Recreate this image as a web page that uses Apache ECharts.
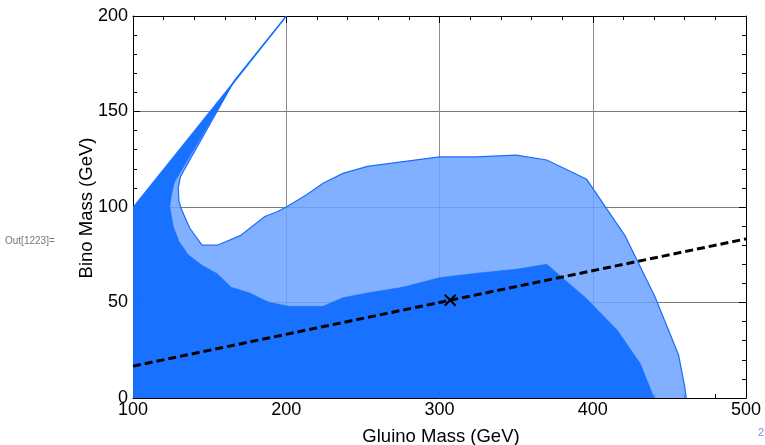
<!DOCTYPE html>
<html>
<head>
<meta charset="utf-8">
<script src="https://cdn.jsdelivr.net/npm/echarts@6/dist/echarts.min.js"></script>
<style>html,body{margin:0;padding:0;background:#fff}#c{width:765px;height:445px}</style>
</head>
<body>
<div id="c"></div>
<script>
// Light (outer) exclusion region boundary: the white-hole edge, then closure
const lightX = [200, 166, 131, 129.5, 130, 131.8, 137, 145, 155, 170, 186, 194, 200, 213, 224, 237, 253, 300, 324, 350, 370, 396, 421, 440.6, 456, 460, 461, 100, 100];
const lightY = [200, 166, 116, 110, 103, 98.4, 89, 80, 80, 85, 95, 97.5, 100, 106.3, 112.4, 117.6, 121.3, 126.2, 126.2, 127.2, 124.6, 114.5, 85, 53, 22.5, 6, 0, 0, 100];
// Outline of the light region (hole edge)
const edgeX = lightX.slice(0, 27);
const edgeY = lightY.slice(0, 27);
// Dark (inner) exclusion region
const darkX = [100, 100, 200, 198.5, 164, 130, 127, 125, 124, 126.3, 130, 136, 145, 155, 164, 176, 189, 202, 224, 237, 253, 276, 300, 324, 350, 370, 396, 416, 431, 440];
const darkY = [0, 100, 200, 198, 163, 117, 113, 106, 100, 89.7, 82, 75, 69.5, 65, 58, 55, 50, 48, 48, 52.5, 55, 58, 63, 65.3, 67.4, 70, 52, 35.5, 18, 0];
// Dashed reference line
const lineX = [100, 500];
const lineY = [16.7, 83.3];
// Benchmark point
const pointX = [307];
const pointY = [51.2];
const xTicks = [100, 200, 300, 400, 500];
const yTicks = [0, 50, 100, 150, 200];

const chart = echarts.init(document.getElementById('c'), null, {renderer: 'canvas'});

function polyRender(xs, ys, style, type) {
  return function (params, api) {
    if (params.dataIndex !== 0) return;
    const pts = xs.map((x, i) => api.coord([x, ys[i]]));
    return {type: type, shape: {points: pts}, style: style, silent: true};
  };
}

const font = 'Arial, "Liberation Sans", sans-serif';
const baseX = {
  type: 'value', min: xTicks[0], max: xTicks[xTicks.length - 1], interval: 100,
  axisLine: {show: true, onZero: false, lineStyle: {color: '#000', width: 1}},
  axisTick: {show: true, inside: true, length: 7, lineStyle: {color: '#000'}},
  minorTick: {show: true, splitNumber: 5, length: 4, lineStyle: {color: '#000'}},
  splitLine: {show: false},
};
const baseY = {
  type: 'value', min: yTicks[0], max: yTicks[yTicks.length - 1], interval: 50,
  axisLine: {show: true, onZero: false, lineStyle: {color: '#000', width: 1}},
  axisTick: {show: true, inside: true, length: 7, lineStyle: {color: '#000'}},
  minorTick: {show: true, splitNumber: 5, length: 4, lineStyle: {color: '#000'}},
  splitLine: {show: false},
};

chart.setOption({
  animation: false,
  grid: {left: 133, right: 19, top: 16, bottom: 47, containLabel: false},
  xAxis: [
    Object.assign({}, baseX, {position: 'bottom',
      axisLabel: {show: true, fontSize: 18, color: '#000', fontFamily: font, margin: 3},
      splitLine: {show: true, lineStyle: {color: '#8c8c8c', width: 1}}}),
    Object.assign({}, baseX, {position: 'top', axisLabel: {show: false}})
  ],
  yAxis: [
    Object.assign({}, baseY, {position: 'left',
      axisLabel: {show: true, fontSize: 18, color: '#000', fontFamily: font, margin: 5},
      splitLine: {show: true, lineStyle: {color: '#7a7a7a', width: 1}}}),
    Object.assign({}, baseY, {position: 'right', axisLabel: {show: false}})
  ],
  graphic: [
    {type: 'text', left: 5, top: 236, style: {text: 'Out[1223]=', fontSize: 10, fill: '#777', fontFamily: font}},
    {type: 'text', x: 441, y: 437, style: {text: 'Gluino Mass (GeV)', fontSize: 18.5, fill: '#000', fontFamily: font, textAlign: 'center', textVerticalAlign: 'middle'}},
    {type: 'text', x: 87, y: 208, rotation: Math.PI / 2, style: {text: 'Bino Mass (GeV)', fontSize: 18.5, fill: '#000', fontFamily: font, textAlign: 'center', textVerticalAlign: 'middle'}},
    {type: 'text', x: 758, y: 427, style: {text: '2', fontSize: 11, fill: '#8a8ae0', fontFamily: font}}
  ],
  series: [
    {type: 'custom', coordinateSystem: 'cartesian2d', data: [[lightX[0], lightY[0]]], clip: true, z: 2,
      renderItem: polyRender(lightX, lightY, {fill: 'rgba(106,162,255,0.85)', stroke: null}, 'polygon')},
    {type: 'custom', coordinateSystem: 'cartesian2d', data: [[edgeX[0], edgeY[0]]], clip: true, z: 3,
      renderItem: polyRender(edgeX, edgeY, {fill: null, stroke: '#1a6cff', lineWidth: 1.2}, 'polyline')},
    {type: 'custom', coordinateSystem: 'cartesian2d', data: [[darkX[0], darkY[0]]], clip: true, z: 4,
      renderItem: polyRender(darkX, darkY, {fill: 'rgba(14,108,255,0.9)', stroke: 'rgba(14,108,255,0.9)', lineWidth: 0.6}, 'polygon')},
    {type: 'line', data: lineX.map((x, i) => [x, lineY[i]]), symbol: 'none', z: 5,
      lineStyle: {color: '#000', width: 3, type: [8, 4]}},
    {type: 'custom', coordinateSystem: 'cartesian2d', data: pointX.map((x, i) => [x, pointY[i]]), z: 6,
      renderItem: function (params, api) {
        const c = api.coord([api.value(0), api.value(1)]);
        const r = 5.5;
        return {type: 'group', children: [
          {type: 'line', shape: {x1: c[0] - r, y1: c[1] - r, x2: c[0] + r, y2: c[1] + r}, style: {stroke: '#000', lineWidth: 2}},
          {type: 'line', shape: {x1: c[0] - r, y1: c[1] + r, x2: c[0] + r, y2: c[1] - r}, style: {stroke: '#000', lineWidth: 2}}
        ]};
      }}
  ]
});
</script>
</body>
</html>
